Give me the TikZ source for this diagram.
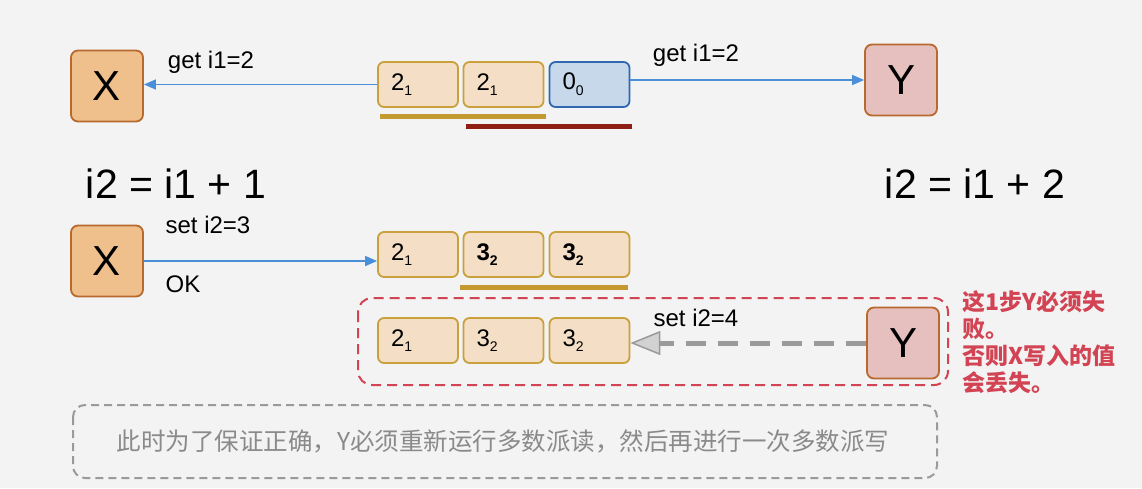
\documentclass[tikz,border=0pt]{standalone}
\usepackage{fontspec}
\setmainfont{Liberation Sans}
\newfontfamily\cjk{Noto Sans CJK SC}
\usetikzlibrary{arrows.meta}
\definecolor{bg}{HTML}{F3F3F3}
\definecolor{tanfill}{HTML}{F4DFC6}
\definecolor{tanline}{HTML}{C9A03C}
\definecolor{bluefill}{HTML}{C6D8EA}
\definecolor{blueline}{HTML}{2F67B0}
\definecolor{arrowblue}{HTML}{4A90D9}
\definecolor{xfill}{HTML}{EFBF8C}
\definecolor{agentline}{HTML}{B86A2E}
\definecolor{yfill}{HTML}{E6C0BE}
\definecolor{gold}{HTML}{C49A30}
\definecolor{darkred}{HTML}{8E1E14}
\definecolor{redd}{HTML}{D24454}
\definecolor{grayd}{HTML}{9A9A9A}
\definecolor{graytext}{HTML}{8A8A8A}
\newcommand{\sbv}[2]{#1\raisebox{-0.45ex}{\fontsize{14}{14}\selectfont #2}}
\begin{document}
\begin{tikzpicture}[x=1pt,y=-1pt,
  agent/.style={draw=agentline,line width=1.8pt,rounded corners=7pt,minimum width=72pt,minimum height=71pt,inner sep=0pt,font=\fontsize{42}{44}\selectfont},
  cell/.style={draw=tanline,fill=tanfill,line width=1.8pt,rounded corners=6pt,minimum height=45pt,text width=54pt,inner xsep=13pt,inner ysep=0pt,align=left,font=\fontsize{24}{26}\selectfont},
  bluecell/.style={cell,draw=blueline,fill=bluefill},
  msg/.style={draw=arrowblue,line width=1.6pt,-{Triangle[width=10pt,length=12pt]}},
  lbl/.style={font=\fontsize{24}{26}\selectfont,inner sep=0pt},
  big/.style={font=\fontsize{41}{44}\selectfont,inner sep=0pt},
  bar/.style={line width=5pt}]
\fill[bg] (0,0) rectangle (1142,488);
% top row
\node[agent,fill=xfill] (X1) at (107,86) {X};
\node[agent,fill=yfill] (Y1) at (901,80) {Y};
\node[cell] (a1) at (418,84.5) {\sbv{2}{1}};
\node[cell] (a2) at (503.5,84.5) {\sbv{2}{1}};
\node[bluecell] (a3) at (589.5,84.5) {\sbv{0}{0}};
\draw[msg] (a1.west) -- (a1.west -| X1.east);
\draw[msg] (Y1.west -| a3.east) -- (Y1.west);
\node[lbl] (l1) at (211,62) {get i1=2};
\node[lbl] (l2) at (696,55) {get i1=2};
\coordinate (g1s) at (380,116); \coordinate (g1e) at (546,116);
\draw[bar,gold] (g1s) -- (g1e);
\coordinate (r1s) at (466,126); \coordinate (r1e) at (632,126);
\draw[bar,darkred] (r1s) -- (r1e);
\node[big] (e1) at (176,184) {i2 = i1 + 1};
\node[big] (e2) at (975,184) {i2 = i1 + 2};
% second row
\node[agent,fill=xfill] (X2) at (107,261) {X};
\node[cell] (b1) at (418,254.5) {\sbv{2}{1}};
\node[cell] (b2) at (503.5,254.5) {\textbf{\sbv{3}{2}}};
\node[cell] (b3) at (589.5,254.5) {\textbf{\sbv{3}{2}}};
\draw[msg] (X2.east) -- (X2.east -| b1.west);
\node[lbl] (l3) at (208,225) {set i2=3};
\node[lbl] (l4) at (183,284) {OK};
\coordinate (g2s) at (460,287); \coordinate (g2e) at (628,287);
\draw[bar,gold] (g2s) -- (g2e);
% third row
\draw[redd,line width=2pt,dash pattern=on 10pt off 6pt,rounded corners=14pt] (358,298) rectangle (948,385);
\node[cell] (c1) at (418,340.5) {\sbv{2}{1}};
\node[cell] (c2) at (503.5,340.5) {\sbv{3}{2}};
\node[cell] (c3) at (589.5,340.5) {\sbv{3}{2}};
\node[agent,fill=yfill] (Y2) at (903,343) {Y};
\draw[grayd,line width=5pt,dash pattern=on 20pt off 12pt,-{Triangle[width=24pt,length=30pt,fill=grayd!45,line width=1.5pt]}] (Y2.west) -- (Y2.west -| c3.east);
\node[lbl] (l5) at (696,318) {set i2=4};
\node[anchor=north west,inner sep=0pt,align=left,text=redd,font=\cjk\bfseries\fontsize{23}{27}\selectfont] (note) at (962,290) {这1步Y必须失\\败。\\否则X写入的值\\会丢失。};
% bottom box
\draw[grayd,line width=2pt,dash pattern=on 8pt off 5pt,rounded corners=12pt] (73,405) rectangle (937,478);
\node[text=graytext,inner sep=0pt,font=\cjk\fontsize{24.5}{28}\selectfont] (bot) at (503,441) {此时为了保证正确，Y必须重新运行多数派读，然后再进行一次多数派写};
\end{tikzpicture}
\end{document}
